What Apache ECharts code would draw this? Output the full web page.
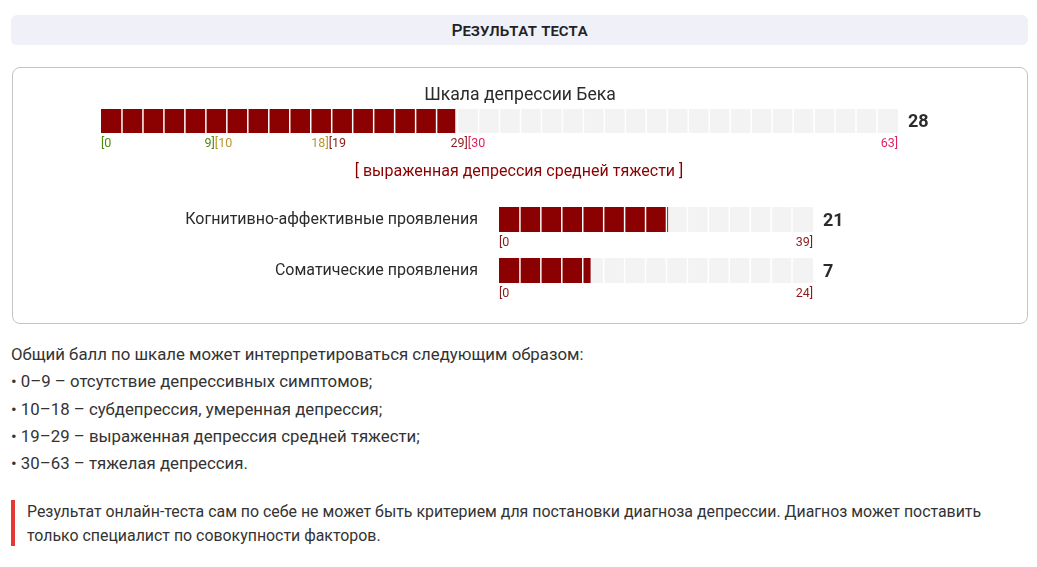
<!DOCTYPE html>
<html>
<head>
<meta charset="utf-8">
<script src="https://cdn.jsdelivr.net/npm/echarts@6/dist/echarts.min.js"></script>
<style>
  html, body { margin: 0; padding: 0; background: #fff; }
  body { width: 1037px; height: 567px; position: relative; overflow: hidden;
         font-family: Roboto, "Noto Sans", sans-serif; color: #333; }
  .head { position: absolute; left: 11px; top: 15px; width: 1017px; height: 30px;
          background: #eff0f8; border-radius: 6px; text-align: center; line-height: 31px;
          font-size: 17.3px; font-weight: 500; font-variant: small-caps; color: #222; }
  .box { position: absolute; left: 12px; top: 67px; width: 1016px; height: 257px;
         box-sizing: border-box; border: 1px solid #c4c4c4; border-radius: 8px; }
  .info { position: absolute; left: 11px; top: 341px; font-size: 16.8px; line-height: 27.3px; white-space: nowrap; }
  .note { position: absolute; left: 11px; top: 500px; height: 46px; border-left: 4px solid #e53935;
          padding-left: 12px; font-size: 15.9px; line-height: 24px; white-space: nowrap; }
  #chart { position: absolute; left: 0; top: 0; width: 1037px; height: 567px; }
</style>
</head>
<body>
<div class="head">Результат теста</div>
<div class="box"></div>
<div class="info">
  Общий балл по шкале может интерпретироваться следующим образом:<br>
  • 0–9 – отсутствие депрессивных симптомов;<br>
  • 10–18 – субдепрессия, умеренная депрессия;<br>
  • 19–29 – выраженная депрессия средней тяжести;<br>
  • 30–63 – тяжелая депрессия.
</div>
<div class="note">Результат онлайн-теста сам по себе не может быть критерием для постановки диагноза депрессии. Диагноз может поставить<br>только специалист по совокупности факторов.</div>
<div id="chart"></div>
<script>
// scales and scores
var scaleNames = ['Шкала депрессии Бека', 'Когнитивно-аффективные проявления', 'Соматические проявления'];
var scores = [28, 21, 7];
var maxScores = [63, 39, 24];
var segmentCounts = [38, 15, 15];
var verdict = '[ выраженная депрессия средней тяжести ]';

// range labels under the bars
var mainRangeStarts = ['[0', '[10', '[19', '[30'];
var mainRangeEnds = [9, 18, 29, 63];
var mainRangeColors = ['#4f8a10', '#b8962e', '#8b1a1a', '#e0245e'];
var subRangeStarts = ['[0'];
var subColor = '#8b1a1a';

var red = '#8b0000';
var gray = '#f3f3f3';
var font = 'Roboto, "Noto Sans", sans-serif';

function barRenderer(idx, ends, starts, colors) {
    return function (params, api) {
        var max = maxScores[idx], n = segmentCounts[idx], score = scores[idx];
        var cat = api.value(0);
        var h = api.size([0, 1])[1];
        var cy = api.coord([0, cat])[1];
        var top = cy - h / 2, bottom = cy + h / 2;
        var scoreX = api.coord([score, cat])[0];
        var gap = 1.5;
        var children = [];
        for (var i = 0; i < n; i++) {
            var x0 = api.coord([i * max / n, cat])[0] + (i ? gap / 2 : 0);
            var x1 = api.coord([(i + 1) * max / n, cat])[0] - (i < n - 1 ? gap / 2 : 0);
            children.push({ type: 'rect', shape: { x: x0, y: top, width: x1 - x0, height: h },
                style: { fill: gray } });
            var rx = Math.min(x1, scoreX);
            if (rx > x0) {
                children.push({ type: 'rect', shape: { x: x0, y: top, width: rx - x0, height: h },
                    style: { fill: red } });
            }
        }
        var endX = api.coord([max, cat])[0];
        children.push({ type: 'text', x: endX + 10, y: cy + 1.5,
            style: { text: String(score), fill: '#2b2b2b', font: 'bold 18px ' + font,
                     textAlign: 'left', textVerticalAlign: 'middle' } });
        for (var k = 0; k < ends.length; k++) {
            var sx = api.coord([k ? ends[k - 1] : 0, cat])[0];
            var ex = api.coord([ends[k], cat])[0];
            children.push({ type: 'text', x: sx, y: bottom + 4.5,
                style: { text: starts[k], fill: colors[k], font: '12.5px ' + font,
                         textAlign: 'left', textVerticalAlign: 'top' } });
            children.push({ type: 'text', x: ex, y: bottom + 4.5,
                style: { text: ends[k] + ']', fill: colors[k], font: '12.5px ' + font,
                         textAlign: 'right', textVerticalAlign: 'top' } });
        }
        return { type: 'group', children: children };
    };
}

var grids = [
    { left: 101, top: 109, width: 797, height: 24 },
    { left: 499, top: 207, width: 314, height: 25 },
    { left: 499, top: 258, width: 314, height: 25 }
];

var option = {
    animation: false,
    title: [
        { text: scaleNames[0], left: 515, top: 82, textAlign: 'center',
          textStyle: { fontFamily: font, fontSize: 17.6, fontWeight: 'normal', color: '#2b2b2b' } },
        { text: verdict, left: 514, top: 159, textAlign: 'center',
          textStyle: { fontFamily: font, fontSize: 16, fontWeight: 'normal', color: red } }
    ],
    grid: grids,
    xAxis: grids.map(function (g, i) {
        return { gridIndex: i, type: 'value', min: 0, max: maxScores[i], show: false };
    }),
    yAxis: grids.map(function (g, i) {
        return { gridIndex: i, type: 'category', data: [scaleNames[i]], show: i > 0,
                 axisLine: { show: false }, axisTick: { show: false },
                 axisLabel: { show: i > 0, margin: 21, fontFamily: font, fontSize: 16, color: '#2b2b2b' } };
    }),
    series: [
        { type: 'custom', xAxisIndex: 0, yAxisIndex: 0, data: [[scaleNames[0]]],
          renderItem: barRenderer(0, mainRangeEnds, mainRangeStarts, mainRangeColors) },
        { type: 'custom', xAxisIndex: 1, yAxisIndex: 1, data: [[scaleNames[1]]],
          renderItem: barRenderer(1, [maxScores[1]], subRangeStarts, [subColor]) },
        { type: 'custom', xAxisIndex: 2, yAxisIndex: 2, data: [[scaleNames[2]]],
          renderItem: barRenderer(2, [maxScores[2]], subRangeStarts, [subColor]) }
    ]
};

var chart = echarts.init(document.getElementById('chart'));
chart.setOption(option);
</script>
</body>
</html>
